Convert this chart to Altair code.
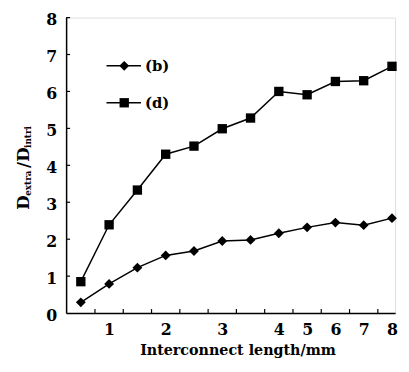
import altair as alt
import pandas as pd

# ---- data ----
lengths = [0.5, 1, 1.5, 2, 2.5, 3, 3.5, 4, 5, 6, 7, 8]
series_b = [0.29, 0.79, 1.23, 1.56, 1.68, 1.95, 1.98, 2.16, 2.32, 2.45, 2.38, 2.57]
series_d = [0.85, 2.39, 3.33, 4.30, 4.52, 4.99, 5.28, 6.00, 5.91, 6.27, 6.29, 6.68]
series_names = ["(b)", "(d)"]
series_shapes = ["diamond", "square"]
x_tick_labels = ["1", "2", "3", "4", "5", "6", "7", "8"]
y_ticks = [0, 1, 2, 3, 4, 5, 6, 7, 8]

FONT = "DejaVu Serif"
W, H = 334, 300

rows = []
for i, (L, b, d) in enumerate(zip(lengths, series_b, series_d)):
    rows.append({"idx": i, "length": L, "value": b, "series": series_names[0]})
    rows.append({"idx": i, "length": L, "value": d, "series": series_names[1]})
df = pd.DataFrame(rows)

label_idx = {str(int(L)): i for i, L in enumerate(lengths) if float(L).is_integer()}
label_values = [label_idx[t] for t in x_tick_labels]
label_expr = " : ".join(f"datum.value == {label_idx[t]} ? '{t}'" for t in x_tick_labels) + " : ''"

mid_ticks = pd.DataFrame({"m": [i + 0.5 for i in range(len(lengths) - 1)]})
ytick_df = pd.DataFrame({"v": y_ticks, "lab": [str(v) for v in y_ticks]})

xscale = alt.Scale(domain=[-0.52, 11.11], nice=False, zero=False)
yscale = alt.Scale(domain=[0, 8], nice=False)

xaxis = alt.Axis(values=label_values, labelExpr=label_expr,
                 title="Interconnect length/mm", titleX=174, titleY=42,
                 titleBaseline="alphabetic", titleAlign="center")
yaxis = alt.Axis(values=y_ticks, labels=False, title="")

base = alt.Chart(df)
shape_scale = alt.Scale(domain=series_names, range=series_shapes)

lines = base.mark_line(color="black", strokeWidth=1.5).encode(
    x=alt.X("idx:Q", scale=xscale, axis=xaxis),
    y=alt.Y("value:Q", scale=yscale, axis=yaxis),
    detail="series:N",
)
points = base.mark_point(filled=True, color="black", opacity=1).encode(
    x=alt.X("idx:Q", scale=xscale),
    y=alt.Y("value:Q", scale=yscale),
    shape=alt.Shape("series:N", scale=shape_scale, legend=None),
    size=alt.Size("series:N", scale=alt.Scale(domain=series_names, range=[100, 90]), legend=None),
)

xticks = alt.Chart(mid_ticks).mark_rule(color="black", strokeWidth=1.2).encode(
    x=alt.X("m:Q", scale=xscale, title="Interconnect length/mm"),
    y=alt.value(H), y2=alt.value(H - 4),
)
yticks = alt.Chart(ytick_df).transform_filter("datum.v > 0").mark_rule(color="black", strokeWidth=1.2).encode(
    y=alt.Y("v:Q", scale=yscale, title=""),
    x=alt.value(0), x2=alt.value(4),
)
ylabels = alt.Chart(ytick_df).mark_text(font=FONT, fontSize=16, fontWeight="bold", color="black",
                                        align="right", baseline="middle", dy=3).encode(
    y=alt.Y("v:Q", scale=yscale, title=""),
    x=alt.value(-9),
    text="lab:N",
)

one = pd.DataFrame({"k": [0]})
legend_layers = []
for name, shape, ly in zip(series_names, series_shapes, [49, 86.5]):
    legend_layers.append(alt.Chart(one).mark_rule(color="black", strokeWidth=1.5).encode(
        x=alt.value(41), x2=alt.value(76), y=alt.value(ly)))
    legend_layers.append(alt.Chart(one).mark_point(filled=True, color="black", opacity=1,
                                                   shape=shape, size=100 if shape == "diamond" else 90).encode(
        x=alt.value(59), y=alt.value(ly)))
    legend_layers.append(alt.Chart(one).mark_text(text=name, font=FONT, fontSize=15, fontWeight="bold",
                                                  color="black", align="left", baseline="middle").encode(
        x=alt.value(80), y=alt.value(ly)))

# y title with subscripts: D_extra / D_intri (pieces placed one after another)
title_parts = [("D", 17, -38, 195), ("extra", 9, -35.5, 181), ("/", 17, -38, 152.7),
               ("D", 17, -38, 146.4), ("intri", 9, -35.5, 132.4)]
ytitle_layers = []
for txt, fs, tx, ty in title_parts:
    ytitle_layers.append(alt.Chart(one).mark_text(text=txt, font=FONT, fontSize=fs, fontWeight="bold",
                                                  color="black", angle=270, align="left",
                                                  baseline="alphabetic").encode(
        x=alt.value(tx), y=alt.value(ty)))

chart = alt.layer(lines, points, xticks, yticks, ylabels, *legend_layers, *ytitle_layers).properties(
    width=W, height=H,
    autosize=alt.AutoSizeParams(type="none"),
    padding={"left": 59, "top": 7, "right": 6, "bottom": 49},
).configure_view(stroke=None).configure(background="white").configure_axis(
    ticks=False, grid=False, labelOverlap=False, labelFlush=False,
    domainColor="black", domainWidth=1.5,
    labelFont=FONT, labelFontSize=16, labelFontWeight="bold", labelColor="black",
    titleFont=FONT, titleFontSize=14.5, titleFontWeight="bold", titleColor="black",
).configure_axisX(labelPadding=9)

chart.save("out.html", embed_options={"renderer": "svg", "actions": False})
